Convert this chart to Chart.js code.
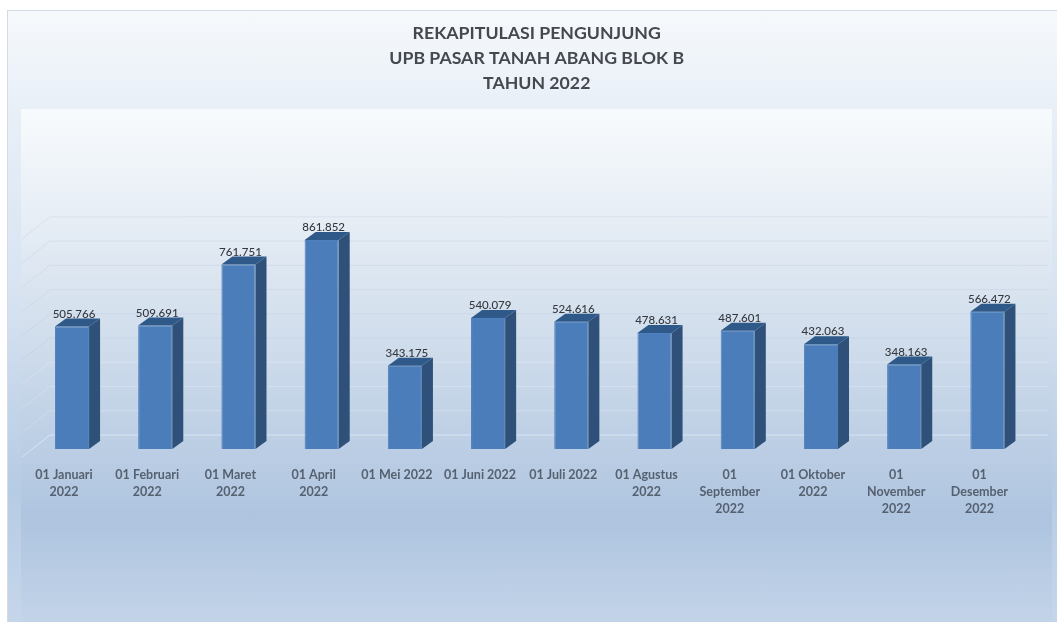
<!DOCTYPE html>
<html>
<head>
<meta charset="utf-8">
<title>Rekapitulasi Pengunjung</title>
<script src="https://cdn.jsdelivr.net/npm/chart.js@4"></script>
<style>
  html, body { margin: 0; padding: 0; background: #fff; }
  #wrap { position: relative; width: 1057px; height: 622px; overflow: hidden; }
  #outer {
    position: absolute; left: 7px; top: 10px; right: 0; bottom: 0;
    border-top: 1px solid #d3dbe6; border-left: 1px solid #d3dbe6;
    background: linear-gradient(180deg, #f6f9fc 0%, #e8eff7 16%, #d8e4f2 45%, #b6cbe4 78%, #c6d6ea 100%);
  }
  #inner {
    position: absolute; left: 21px; top: 109px; width: 1031px; height: 513px;
    background: linear-gradient(180deg, #f8fbfd 0%, #e6edf5 22%, #d0ddec 45%, #aec4df 80%, #c3d4e9 100%);
  }
  canvas { position: absolute; left: 0; top: 0; filter: blur(0.35px); }
</style>
</head>
<body>
<div id="wrap">
  <div id="outer"></div>
  <div id="inner"></div>
  <canvas id="chart" width="1057" height="622"></canvas>
</div>
<script>
const titleLines = ["REKAPITULASI PENGUNJUNG", "UPB PASAR TANAH ABANG BLOK B", "TAHUN 2022"];

const categories = [
  ["01 Januari", "2022"],
  ["01 Februari", "2022"],
  ["01 Maret", "2022"],
  ["01 April", "2022"],
  ["01 Mei 2022"],
  ["01 Juni 2022"],
  ["01 Juli 2022"],
  ["01 Agustus", "2022"],
  ["01", "September", "2022"],
  ["01 Oktober", "2022"],
  ["01", "November", "2022"],
  ["01", "Desember", "2022"],
];

const visitors = [505766, 509691, 761751, 861852, 343175, 540079, 524616, 478631, 487601, 432063, 348163, 566472];

const depthX = 11;
const depthY = 8;
const formatNumber = new Intl.NumberFormat("de-DE");

// back wall lines of the 3D look, drawn from the y scale ticks
const wallGrid = {
  id: "wallGrid",
  beforeDatasetsDraw(chart) {
    const { ctx, scales } = chart;
    const y = scales.y;
    ctx.save();
    ctx.lineWidth = 1;
    y.ticks.forEach((tick) => {
      const py = y.getPixelForValue(tick.value);
      if (tick.value > 300000) {
        ctx.strokeStyle = "rgba(180,194,214,0.28)";
      } else {
        ctx.strokeStyle = tick.value === 0 ? "rgba(238,244,250,0.6)" : "rgba(238,244,250,0.3)";
      }
      ctx.beginPath();
      ctx.moveTo(22, py + 8);
      ctx.lineTo(50, py - 14);
      ctx.lineTo(1048, py - 14);
      ctx.stroke();
    });
    ctx.restore();
  },
};

const bar3d = {
  id: "bar3d",
  afterDatasetsDraw(chart) {
    const { ctx } = chart;
    const bars = chart.getDatasetMeta(0).data;
    ctx.save();
    bars.forEach((bar, index) => {
      const left = bar.x - bar.width / 2;
      const right = bar.x + bar.width / 2;

      ctx.fillStyle = "#2f5179";
      ctx.beginPath();
      ctx.moveTo(right, bar.y);
      ctx.lineTo(right + depthX, bar.y - depthY);
      ctx.lineTo(right + depthX, bar.base - depthY);
      ctx.lineTo(right, bar.base);
      ctx.closePath();
      ctx.fill();

      ctx.fillStyle = "#2e5989";
      ctx.beginPath();
      ctx.moveTo(left, bar.y);
      ctx.lineTo(left + depthX, bar.y - depthY);
      ctx.lineTo(right + depthX, bar.y - depthY);
      ctx.lineTo(right, bar.y);
      ctx.closePath();
      ctx.fill();

      ctx.fillStyle = "#33373e";
      ctx.font = "500 11.5px Lato";
      ctx.textAlign = "center";
      ctx.textBaseline = "middle";
      ctx.fillText(formatNumber.format(visitors[index]), bar.x + 2, bar.y - 12.5);
    });
    ctx.restore();
  },
};

// the title is centred on the whole panel, not on the plot
const shiftTitle = {
  id: "shiftTitle",
  afterLayout(chart) {
    chart.titleBlock.left += 7;
    chart.titleBlock.right += 7;
  },
};

new Chart(document.querySelector("#chart"), {
  type: "bar",
  data: {
    labels: categories,
    datasets: [{
      label: "Pengunjung",
      data: visitors,
      backgroundColor: "#4b7dba",
      borderColor: "#4d80bc",
      borderWidth: 1,
      barPercentage: 1,
      categoryPercentage: 0.41,
    }],
  },
  plugins: [wallGrid, bar3d, shiftTitle],
  options: {
    responsive: false,
    animation: false,
    layout: { padding: { left: 30.4, right: 28, top: 21, bottom: 103 } },
    plugins: {
      legend: { display: false },
      tooltip: { enabled: false },
      title: {
        display: true,
        text: titleLines,
        color: "#45494f",
        font: { family: "Lato", size: 17.7, weight: "bold", lineHeight: 1.41 },
        padding: { top: 0, bottom: 135 },
      },
    },
    scales: {
      x: {
        grid: { display: false },
        border: { display: false },
        afterFit: (scale) => { scale.height = 70; },
        ticks: {
          color: "#566170",
          font: { family: "Lato", size: 12.5, weight: "bold", lineHeight: 1.36 },
          maxRotation: 0,
          autoSkip: false,
          labelOffset: -8,
          padding: 9,
        },
      },
      y: {
        display: false,
        min: 0,
        max: 900000,
        ticks: { stepSize: 100000 },
      },
    },
  },
});
</script>
</body>
</html>
